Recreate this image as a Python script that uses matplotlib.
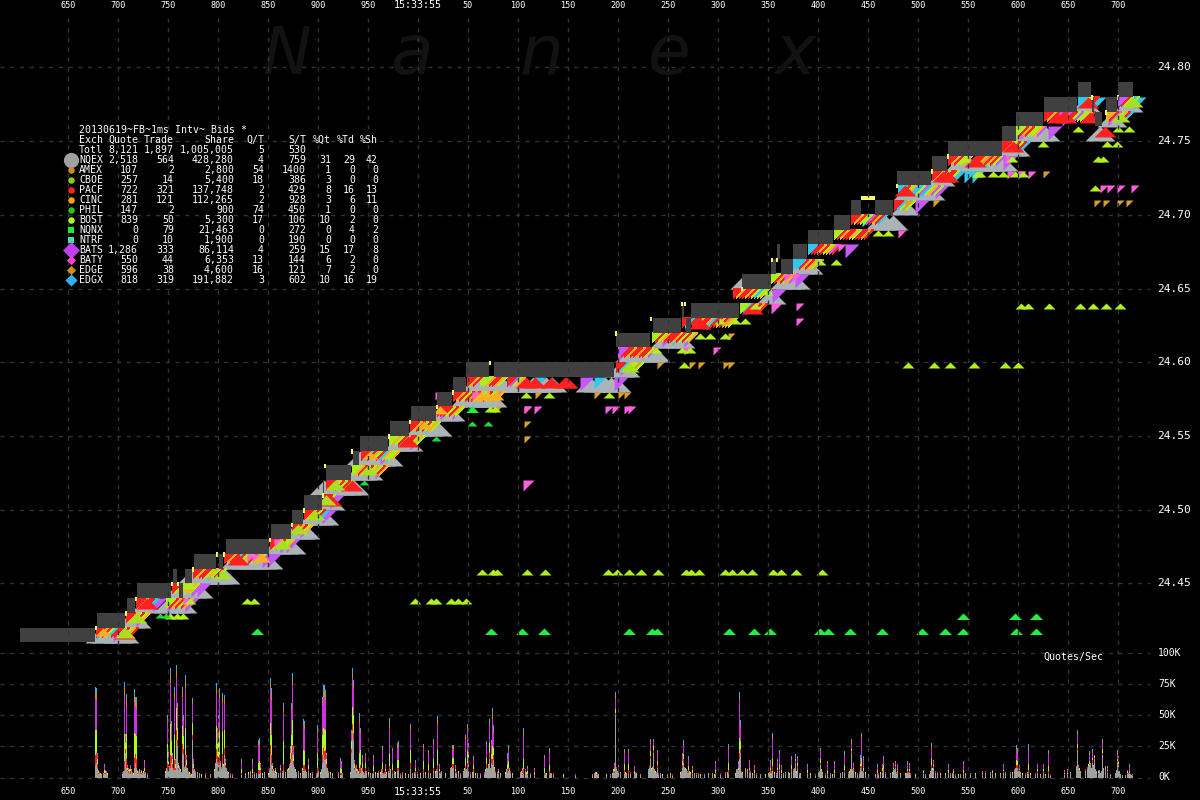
import matplotlib
matplotlib.use("Agg")
import matplotlib.pyplot as plt
import numpy as np

# time axis: t = ms counted from the left edge of the chart, 1 ms = 1 pixel
tick_t = [68, 118, 168, 218, 268, 318, 368, 418, 468, 518, 568, 618, 668, 718, 768, 818, 868, 918, 968, 1018, 1068, 1118]
tick_lab = ["650", "700", "750", "800", "850", "900", "950", "15:33:55", "50", "100", "150", "200", "250", "300",
            "350", "400", "450", "500", "550", "600", "650", "700"]
price_ticks = [24.80, 24.75, 24.70, 24.65, 24.60, 24.55, 24.50, 24.45]
vol_ticks = [100, 75, 50, 25, 0]

# best bid boxes: start, end, bid
nbb_start = [20, 97, 127, 137, 179, 173, 185, 194, 219, 226, 271, 292, 304, 323, 326, 353, 360, 390, 411, 437, 453, 466, 494,
             616, 653, 686, 682, 691, 742, 771, 781, 777, 793, 808, 834, 851, 875, 897, 932, 948, 1002, 1016, 1044, 1078,
             1092, 1095, 1106, 1118]
nbb_end = [95, 125, 135, 171, 183, 177, 192, 216, 223, 269, 291, 303, 322, 324, 351, 359, 388, 409, 436, 452, 466, 489, 614,
           650, 681, 691, 684, 739, 771, 776, 793, 780, 807, 833, 850, 861, 893, 931, 947, 1002, 1016, 1043, 1077, 1091,
           1094, 1102, 1117, 1133]
nbb_bid = [24.41, 24.42, 24.43, 24.44, 24.44, 24.45, 24.45, 24.46, 24.46, 24.47, 24.48, 24.49, 24.50, 24.51, 24.52, 24.53,
           24.54, 24.55, 24.56, 24.57, 24.58, 24.59, 24.59, 24.61, 24.62, 24.62, 24.63, 24.63, 24.65, 24.66, 24.66, 24.67,
           24.67, 24.68, 24.69, 24.70, 24.70, 24.72, 24.73, 24.74, 24.75, 24.76, 24.77, 24.78, 24.77, 24.76, 24.77, 24.78]

yellow_t = [95, 125, 135, 171, 177, 192, 216, 223, 269, 291, 303, 322, 324, 351, 388, 409, 436, 452, 489, 615, 650, 681, 684,
            741, 771, 776, 896, 931, 947, 1091, 1105, 1117]
yellow_bid = [24.42, 24.43, 24.44, 24.45, 24.45, 24.46, 24.47, 24.47, 24.48, 24.49, 24.50, 24.51, 24.53, 24.54, 24.55, 24.56,
              24.57, 24.58, 24.60, 24.62, 24.63, 24.64, 24.64, 24.65, 24.67, 24.67, 24.72, 24.73, 24.74, 24.78, 24.77, 24.78]
yellow_wide_t = [861]
yellow_wide_bid = [24.71]

# quotes per exchange, (bid, times)
nqex_rows = [(24.42, [100, 106, 118, 124]), (24.43, [130, 136]), (24.44, [145, 168, 175, 182]), (24.45, [178, 185, 192, 198]),
             (24.46, [192, 199, 205, 212, 218, 225]), (24.47, [235, 241, 247, 254, 262, 268]), (24.48, [276, 283, 291]),
             (24.49, [295, 300, 305]), (24.50, [312, 318, 324]), (24.51, [330]), (24.52, [324, 331, 340, 347, 354]),
             (24.53, [358, 362, 368]), (24.54, [360, 367, 375, 381, 388]), (24.55, [398, 404, 408]), (24.56, [420, 428, 437]),
             (24.57, [444, 450]), (24.58, [465, 472, 480, 486, 492]),
             (24.59, [475, 482, 489, 495, 502, 510, 518, 525, 533, 540, 546, 552, 590, 598, 605, 611, 616]),
             (24.60, [620, 625]), (24.61, [630, 643, 650, 655]), (24.62, [665, 672, 680]), (24.65, [771]),
             (24.66, [745, 785, 790, 795]), (24.67, [802, 808]), (24.70, [880, 885, 893]), (24.71, [905]),
             (24.72, [908, 915, 922, 930]), (24.73, [940]), (24.74, [960, 968, 975, 983, 990, 997, 1003]), (24.75, [1012, 1015]),
             (24.76, [1026, 1032, 1038, 1045, 1100]), (24.77, [1112]), (24.78, [1085, 1128])]
bats_rows = [(24.42, [113]), (24.43, [136]), (24.44, [153, 167, 185]), (24.45, [191, 197]), (24.47, [262, 267]),
             (24.48, [280, 286]), (24.49, [300]), (24.50, [322]), (24.51, [330]), (24.53, [375]), (24.54, [380]),
             (24.55, [410]), (24.57, [440, 452]), (24.59, [580, 614]), (24.60, [620]), (24.61, [618]), (24.62, [662, 684]),
             (24.65, [772]), (24.66, [795]), (24.71, [915]), (24.72, [935]), (24.74, [1003]), (24.76, [1020, 1048]),
             (24.68, [845]), (24.77, [1062, 1108])]
edgx_rows = [(24.42, [124, 96]), (24.43, [133]), (24.44, [148, 175]), (24.46, [207]), (24.48, [283]), (24.50, [318]),
             (24.54, [385]), (24.56, [425]), (24.59, [534, 594]), (24.62, [672]), (24.63, [685, 706]), (24.64, [745]),
             (24.70, [862]), (24.72, [905, 920]), (24.73, [953, 964, 972]), (24.74, [985]), (24.75, [1019]),
             (24.78, [1078, 1094, 1134])]
baty_rows = [(24.44, [183]), (24.47, [247, 252]), (24.48, [274]), (24.57, [524, 534, 605, 612, 624, 628]),
             (24.58, [435, 472]), (24.61, [713, 684]), (24.64, [796]), (24.63, [796]), (24.66, [784, 792]),
             (24.69, [898]), (24.73, [1007, 1018, 1028]), (24.72, [1100, 1107, 1117, 1131]), (24.68, [838]),
             (24.74, [1005])]
baty_big_rows = [(24.52, [523]), (24.64, [771])]
edge_rows = [(24.55, [524]), (24.56, [524]), (24.57, [524, 495]), (24.58, [535, 594, 618, 624]),
             (24.60, [657, 689, 698, 723, 728]), (24.62, [728]), (24.73, [1043, 1018]), (24.71, [1094, 1103, 1117, 1126, 933]),
             (24.71, [905])]
pacf_rows = [(24.42, [125]), (24.44, [147]), (24.47, [238]), (24.51, [331]), (24.52, [352]), (24.55, [408]),
             (24.59, [526, 535, 551, 567]), (24.59, [565]), (24.64, [752]), (24.63, [700]), (24.72, [905]),
             (24.73, [943, 948]), (24.74, [975]), (24.75, [1013]), (24.77, [1057, 1066, 1090]), (24.76, [1105]),
             (24.78, [1088])]
cinc_rows = [(24.42, [103, 125]), (24.45, [186]), (24.47, [262]), (24.54, [370]), (24.56, [424]), (24.57, [440]),
             (24.58, [480, 488, 496])]
bost_rows = [(24.46, [482, 493, 497, 527, 545, 608, 617, 629, 641, 658, 686, 691, 699, 725, 732, 742, 752, 773, 781, 796, 822]),
             (24.44, [415, 431, 436, 451, 458, 466, 254, 247]), (24.64, [1021, 1028, 1049, 1080, 1093, 1106, 1120]),
             (24.60, [908, 934, 950, 974, 1005, 1018, 684]), (24.75, [1043, 1107, 1117]), (24.74, [1098, 1103]),
             (24.76, [1078, 1118, 1129]), (24.73, [977, 980, 993, 1003, 1015, 1023]), (24.72, [1095]),
             (24.57, [490, 495]), (24.58, [526, 549, 609]), (24.61, [682, 690, 656]), (24.65, [767]),
             (24.67, [820, 836]), (24.69, [878, 888]), (24.64, [755]), (24.63, [720, 735, 745]), (24.62, [700, 710, 725]),
             (24.45, [186, 190]), (24.43, [170, 177, 183]), (24.44, [190]), (24.74, [965, 1012])]
bost_big_rows = [(24.42, [125]), (24.43, [137]), (24.46, [222]), (24.48, [282]), (24.49, [298]), (24.50, [315]),
                 (24.51, [326]), (24.52, [335]), (24.53, [368]), (24.60, [629]), (24.78, [1133]), (24.77, [1120])]
phil_rows = [(24.57, [472]), (24.56, [472, 488]), (24.52, [364]), (24.55, [436]), (24.43, [160, 166])]
nqnx_rows = [(24.42, [257, 491, 522, 544, 629, 652, 657, 729, 754, 770, 820, 828, 850, 882, 922, 945, 963, 1016, 1036]),
             (24.43, [963, 1015, 1036]), (24.57, [472])]

# diagonal streaks at the head of each bid level: bid, times, exchange letter per quote
hatch_rows = [
    (24.42, [96, 99, 102, 105, 108, 111, 114, 117, 120, 123, 126, 129], "RORLCRRLRLOR"),
    (24.43, [126, 129, 132, 135, 138, 141], "ROLRLO"),
    (24.44, [136, 139, 142, 145, 148, 166, 169, 172, 175, 178, 181, 184], "RORRCLRORLRO"),
    (24.45, [172, 175, 178, 181, 184, 187, 190], "RLOLLOL"),
    (24.46, [193, 196, 199, 202, 205, 208, 211, 214, 217], "RORRLOLRL"),
    (24.47, [224, 227, 230, 233, 236, 239, 242, 245, 248, 251, 254, 257], "RORCRLOLRLOL"),
    (24.48, [270, 273, 276, 279, 282, 285], "RORLLO"),
    (24.49, [292, 295, 298, 301, 304], "RORLO"),
    (24.50, [304, 307, 310, 313, 316], "RORLR"),
    (24.51, [323, 326], "RL"),
    (24.52, [326, 329, 332, 335, 338, 341, 344], "ROLRLRL"),
    (24.53, [352, 355, 358, 361, 364, 367, 370, 373, 376, 379], "LORLRLOLRO"),
    (24.54, [361, 364, 367, 370, 373, 376, 379, 382, 385, 388, 391], "RCROLRCOLLO"),
    (24.55, [389, 392, 395, 398, 401, 404, 407, 410, 413, 416], "LOLRORRLOL"),
    (24.56, [410, 413, 416, 419, 422, 425, 428, 431], "RORLRLOL"),
    (24.57, [437, 440, 443, 446, 449, 452, 455], "RRRLROL"),
    (24.58, [453, 456, 459, 462, 465, 468, 471, 474, 477, 480, 483, 486, 489, 492, 495], "RORLRGROLORLOGO"),
    (24.59, [467, 470, 473, 480, 483, 486, 489, 492, 495, 498, 507, 510, 513, 516], "RORLLORROLRPLO"),
    (24.60, [616, 619, 622, 625, 628, 631, 634], "RCOLLGL"),
    (24.61, [618, 621, 624, 627, 630, 633, 636, 639, 642, 645, 648], "PRRORRORRLP"),
    (24.62, [652, 655, 658, 661, 664, 667, 670, 673, 676, 679, 682, 685, 688], "LRLORRRORLRLO"),
    (24.63, [682, 685, 688, 692, 695, 698, 701, 704, 707, 710, 713, 716, 719, 722, 725, 728], "RCRRORROCRRORGOL"),
    (24.64, [740, 743, 746, 749, 752, 755, 758], "LCROROR"),
    (24.65, [733, 736, 739, 742, 745, 748, 751, 754, 757, 760], "RORRORLCLO"),
    (24.66, [771, 774, 777, 780, 783, 786, 789], "LRORLOP"),
    (24.67, [793, 796, 799, 802, 805, 808, 811, 814], "CCROROLG"),
    (24.68, [808, 811, 814, 817, 820, 823, 826, 829, 832], "CRRORLOPR"),
    (24.69, [834, 837, 840, 843, 846, 849, 852, 855, 858, 861, 864], "LRORROLRRGR"),
    (24.70, [851, 854, 857, 860, 863, 866, 869, 872, 875, 878], "RORLLPRORC"),
    (24.71, [894, 897, 900, 903, 906], "RCLGL"),
    (24.72, [898, 901, 904, 907, 910, 913, 916, 919, 922, 925, 928, 931, 934], "CRLOCCLPCLOPL"),
    (24.73, [932, 935, 938, 941, 944, 947, 950], "RORLRRL"),
    (24.74, [948, 951, 954, 957, 960, 963, 975, 978, 981, 984, 987, 990, 993, 996], "RORLLOROGRORLP"),
    (24.75, [1002, 1005, 1008, 1011, 1014, 1017, 1020], "ROLRLRC"),
    (24.76, [1016, 1019, 1022, 1025, 1028, 1031, 1034, 1037], "LRORLLOP"),
    (24.77, [1044, 1047, 1050, 1053, 1056, 1059, 1062, 1065, 1068, 1071, 1074, 1077, 1080, 1083, 1086, 1106, 1109, 1112, 1115,
             1118, 1121, 1124], "RORPRRPRRLPLLORORPLORC"),
    (24.78, [1078, 1081, 1084, 1087, 1090, 1118, 1121, 1124, 1127, 1130], "CLORRPRLCL"),
]

# quotes per 1 ms slot, stacked, in thousands per second
vol_t = [95, 96, 97, 98, 104, 105, 124, 125, 126, 127, 128, 130, 134, 135, 136, 137, 141, 144, 167, 168,
         170, 171, 172, 174, 175, 176, 177, 178, 182, 183, 185, 186, 192, 193, 216, 217, 218, 219, 222, 224,
         225, 241, 252, 258, 259, 260, 270, 271, 272, 275, 280, 283, 290, 291, 292, 293, 303, 304, 308, 317,
         322, 323, 324, 325, 326, 340, 341, 351, 352, 353, 354, 356, 359, 360, 362, 365, 373, 382, 385, 389,
         392, 397, 398, 410, 415, 423, 428, 433, 437, 439, 452, 453, 455, 465, 467, 468, 473, 486, 489, 491,
         492, 493, 498, 507, 508, 522, 523, 527, 534, 544, 549, 614, 615, 618, 624, 628, 634, 650, 653, 657,
         682, 683, 688, 692, 715, 728, 738, 739, 740, 749, 754, 770, 772, 777, 779, 781, 791, 795, 797, 807,
         820, 827, 834, 844, 851, 853, 860, 861, 863, 877, 882, 883, 893, 895, 897, 907, 909, 923, 931, 933,
         948, 953, 963, 982, 992, 1003, 1016, 1017, 1019, 1028, 1037, 1043, 1048, 1064, 1067, 1077, 1078, 1089, 1092, 1094,
         1098, 1102, 1107, 1117, 1118, 1127, 1129, 1132]
vol_nqex = [10, 12, 8, 3, 3, 3, 5, 20, 8, 5, 4, 3, 8, 12, 8, 3, 3, 3, 6, 8,
            8, 12, 8, 6, 6, 30, 25, 6, 20, 18, 10, 8, 30, 6, 15, 12, 10, 10, 12, 18,
            8, 2, 2, 3, 3, 4, 18, 10, 5, 3, 4, 5, 12, 15, 20, 10, 5, 5, 5, 4,
            12, 18, 14, 15, 8, 2, 2, 20, 37, 30, 6, 4, 3, 4, 5, 5, 3, 4, 3, 4,
            3, 5, 5, 7, 3, 4, 4, 5, 5, 4, 8, 8, 4, 6, 8, 10, 5, 8, 15, 12,
            10, 14, 3, 4, 5, 2, 3, 2, 1, 2, 2, 4, 50, 4, 3, 3, 2, 15, 20, 8,
            8, 12, 4, 3, 2, 3, 5, 15, 20, 4, 3, 4, 5, 5, 5, 3, 6, 12, 8, 3,
            10, 2, 3, 4, 20, 6, 8, 5, 4, 3, 4, 6, 6, 8, 5, 4, 4, 3, 8, 8,
            3, 3, 3, 2, 3, 4, 8, 8, 5, 3, 4, 4, 3, 2, 2, 22, 5, 10, 12, 15,
            3, 18, 4, 12, 10, 3, 3, 1]
vol_pacf = [8, 8, 3, 1, 1, 1, 8, 3, 7, 1, 1, 2, 8, 7, 7, 1, 1, 2, 6, 3,
            10, 5, 3, 8, 2, 8, 5, 2, 7, 5, 8, 2, 4, 2, 8, 5, 6, 8, 7, 6,
            2, 2, 2, 3, 3, 2, 8, 8, 2, 1, 2, 6, 3, 5, 6, 3, 5, 5, 2, 4,
            6, 6, 7, 7, 3, 2, 2, 3, 6, 6, 2, 1, 5, 6, 3, 3, 2, 3, 2, 5,
            3, 3, 3, 5, 2, 3, 2, 3, 5, 1, 3, 3, 1, 3, 4, 3, 2, 3, 5, 3,
            5, 4, 1, 3, 3, 1, 4, 1, 1, 2, 3, 1, 2, 1, 3, 3, 1, 2, 2, 2,
            2, 3, 2, 1, 2, 3, 1, 5, 3, 2, 1, 2, 4, 1, 2, 1, 1, 1, 1, 1,
            2, 1, 1, 2, 1, 1, 1, 4, 1, 1, 1, 1, 1, 1, 1, 1, 1, 1, 2, 1,
            1, 1, 1, 1, 1, 1, 2, 2, 1, 3, 1, 1, 2, 1, 1, 2, 1, 1, 2, 1,
            1, 2, 1, 1, 1, 1, 1, 1]
vol_bost = [20, 18, 4, 1, 2, 1, 22, 5, 20, 2, 1, 2, 20, 16, 18, 1, 1, 3, 15, 5,
            25, 12, 4, 20, 3, 18, 10, 2, 14, 10, 22, 4, 10, 3, 18, 10, 12, 20, 18, 14,
            2, 3, 3, 6, 7, 2, 18, 16, 2, 2, 2, 18, 5, 14, 20, 5, 12, 11, 3, 12,
            16, 16, 18, 16, 4, 4, 3, 6, 14, 14, 3, 2, 12, 12, 4, 4, 4, 5, 2, 11,
            5, 6, 6, 10, 3, 6, 5, 7, 12, 2, 5, 5, 2, 7, 10, 5, 3, 5, 8, 4,
            10, 6, 1, 4, 5, 1, 8, 2, 2, 4, 5, 2, 3, 2, 5, 5, 2, 4, 3, 3,
            3, 4, 3, 2, 2, 6, 2, 12, 6, 2, 2, 2, 6, 2, 4, 2, 3, 2, 3, 2,
            3, 2, 2, 4, 2, 1, 2, 7, 3, 2, 3, 3, 1, 1, 1, 2, 2, 1, 5, 1,
            2, 1, 2, 1, 1, 1, 4, 3, 1, 5, 2, 2, 4, 1, 1, 3, 1, 2, 2, 1,
            1, 3, 1, 2, 2, 1, 1, 0]
vol_baty = [25, 24, 3, 1, 3, 1, 30, 5, 22, 1, 1, 2, 25, 22, 22, 1, 1, 4, 17, 4,
            33, 12, 3, 29, 3, 25, 15, 1, 24, 12, 32, 3, 15, 3, 26, 10, 16, 26, 23, 21,
            2, 5, 5, 13, 14, 3, 27, 28, 2, 1, 1, 24, 4, 20, 28, 5, 19, 18, 3, 16,
            24, 25, 26, 24, 3, 6, 4, 7, 23, 21, 2, 2, 24, 14, 4, 6, 7, 10, 3, 20,
            10, 10, 11, 16, 4, 11, 8, 12, 20, 3, 7, 7, 2, 15, 16, 8, 5, 9, 13, 8,
            22, 12, 2, 5, 9, 2, 18, 3, 3, 8, 10, 3, 8, 2, 9, 9, 4, 6, 4, 7,
            4, 7, 6, 2, 6, 11, 3, 30, 12, 5, 3, 4, 16, 5, 8, 3, 5, 2, 3, 3,
            6, 7, 5, 8, 4, 3, 4, 16, 6, 3, 2, 5, 2, 2, 3, 4, 3, 1, 9, 3,
            3, 2, 5, 1, 1, 3, 8, 7, 2, 11, 3, 3, 10, 1, 2, 7, 2, 5, 4, 1,
            1, 5, 2, 4, 3, 1, 4, 1]
vol_edge = [6, 6, 1, 0, 1, 0, 7, 1, 6, 1, 1, 1, 6, 5, 6, 0, 0, 1, 3, 1,
            7, 2, 1, 6, 1, 5, 3, 1, 5, 3, 6, 1, 3, 1, 5, 2, 3, 4, 5, 4,
            1, 1, 1, 3, 3, 1, 5, 6, 1, 1, 1, 4, 1, 3, 5, 1, 3, 3, 1, 3,
            4, 5, 5, 4, 1, 1, 1, 1, 4, 4, 1, 1, 4, 2, 1, 1, 1, 2, 1, 4,
            2, 2, 2, 3, 1, 2, 2, 2, 4, 1, 2, 2, 1, 2, 3, 1, 1, 1, 3, 2,
            5, 3, 0, 1, 2, 1, 4, 1, 1, 1, 2, 1, 3, 1, 2, 2, 0, 2, 1, 1,
            1, 2, 1, 1, 1, 2, 1, 3, 2, 1, 1, 1, 2, 1, 1, 1, 1, 1, 1, 1,
            1, 1, 1, 1, 2, 1, 1, 2, 1, 1, 1, 1, 1, 1, 1, 1, 1, 0, 2, 1,
            1, 0, 1, 0, 0, 1, 2, 2, 1, 2, 1, 1, 1, 1, 1, 2, 1, 2, 2, 0,
            0, 1, 1, 2, 1, 0, 1, 0]
vol_edgx = [4, 4, 1, 0, 1, 0, 5, 1, 4, 0, 0, 0, 4, 3, 4, 0, 0, 1, 3, 1,
            5, 2, 1, 4, 0, 4, 2, 0, 3, 2, 4, 0, 2, 0, 4, 1, 3, 4, 3, 3,
            0, 2, 2, 2, 2, 0, 4, 4, 0, 0, 0, 3, 0, 3, 5, 1, 3, 3, 1, 3,
            3, 4, 4, 4, 1, 1, 1, 1, 4, 3, 0, 0, 4, 2, 1, 1, 1, 1, 0, 4,
            1, 2, 2, 2, 1, 1, 1, 2, 3, 0, 1, 1, 0, 1, 2, 1, 1, 3, 3, 1,
            4, 3, 0, 3, 2, 1, 3, 0, 0, 1, 2, 1, 3, 0, 1, 1, 0, 2, 1, 1,
            2, 2, 1, 0, 0, 2, 1, 4, 3, 0, 0, 1, 3, 1, 2, 0, 1, 1, 1, 1,
            2, 0, 1, 2, 2, 0, 2, 2, 2, 1, 0, 1, 1, 0, 0, 1, 1, 0, 2, 0,
            1, 0, 1, 0, 0, 1, 2, 2, 0, 3, 0, 0, 2, 0, 0, 2, 0, 1, 1, 0,
            0, 2, 0, 1, 0, 0, 1, 0]

# small quote counts under the spikes, with the colour of the quote on top of each
low_t = [99, 100, 101, 103, 106, 107, 122, 123, 129, 131, 132, 133, 138, 139, 140, 142, 143, 145, 147, 165,
         166, 169, 173, 179, 180, 181, 184, 187, 188, 189, 190, 191, 194, 195, 197, 199, 201, 205, 210, 214,
         215, 220, 221, 223, 226, 227, 228, 230, 232, 245, 248, 250, 254, 256, 262, 264, 268, 269, 273, 274,
         276, 278, 282, 285, 287, 288, 289, 294, 295, 296, 298, 300, 302, 305, 306, 310, 312, 316, 318, 320,
         321, 327, 328, 330, 332, 338, 342, 350, 355, 357, 358, 361, 363, 364, 366, 368, 370, 372, 375, 377,
         378, 380, 381, 383, 384, 386, 388, 390, 394, 395, 400, 402, 405, 408, 412, 414, 417, 420, 425, 430,
         435, 436, 440, 441, 445, 450, 451, 456, 458, 460, 463, 464, 466, 470, 472, 475, 477, 480, 484, 485,
         487, 488, 490, 494, 495, 497, 500, 505, 506, 509, 510, 512, 520, 521, 525, 526, 530, 545, 546, 550,
         551, 553, 563, 575, 592, 594, 595, 596, 597, 598, 606, 610, 612, 613, 616, 617, 620, 625, 626, 630,
         635, 636, 640, 648, 649, 651, 652, 654, 655, 656, 658, 660, 662, 667, 670, 672, 680, 681, 684, 685,
         686, 687, 689, 690, 694, 696, 698, 700, 704, 708, 712, 714, 720, 725, 727, 735, 736, 737, 741, 742,
         745, 747, 750, 752, 756, 760, 765, 768, 769, 771, 774, 776, 783, 785, 788, 789, 793, 794, 796, 799,
         800, 810, 815, 818, 819, 821, 822, 825, 830, 832, 840, 842, 848, 849, 850, 852, 855, 857, 859, 862,
         865, 868, 875, 878, 880, 885, 890, 892, 894, 896, 900, 905, 906, 908, 910, 915, 925, 929, 930, 932,
         935, 937, 940, 945, 950, 952, 955, 958, 960, 965, 970, 975, 985, 990, 995, 1000, 1005, 1010, 1012, 1014,
         1015, 1018, 1020, 1022, 1025, 1027, 1030, 1035, 1040, 1045, 1050, 1070, 1076, 1079, 1080, 1085, 1087, 1088, 1090, 1091,
         1093, 1095, 1096, 1099, 1100, 1101, 1103, 1105, 1110, 1115, 1116, 1119, 1120, 1122, 1125, 1128, 1130, 1131]
low_k = [3, 2, 1, 2, 4, 2, 3, 4, 5, 5, 3, 2, 4, 5, 3, 2, 4, 3, 2, 4,
         6, 8, 6, 8, 5, 3, 7, 6, 4, 3, 2, 1, 5, 4, 3, 2, 1, 2, 1, 5,
         10, 12, 7, 9, 6, 4, 3, 2, 1, 2, 3, 4, 3, 2, 2, 3, 2, 6, 5, 4,
         3, 2, 4, 3, 5, 6, 9, 7, 5, 3, 4, 2, 6, 5, 3, 2, 3, 2, 4, 3,
         5, 6, 4, 3, 2, 3, 2, 3, 8, 5, 4, 6, 3, 2, 4, 3, 2, 2, 3, 2,
         4, 3, 5, 2, 3, 3, 4, 5, 4, 3, 2, 3, 2, 1, 2, 3, 3, 2, 3, 2,
         4, 5, 3, 4, 2, 6, 7, 3, 4, 2, 4, 6, 5, 3, 3, 2, 2, 2, 3, 5,
         6, 9, 6, 7, 4, 3, 2, 3, 5, 6, 4, 2, 3, 4, 5, 3, 2, 2, 2, 2,
         2, 2, 1, 1, 1, 2, 3, 3, 2, 1, 1, 1, 2, 5, 7, 4, 3, 3, 2, 3,
         3, 2, 1, 5, 8, 6, 7, 5, 4, 3, 2, 2, 1, 1, 2, 1, 3, 4, 7, 6,
         5, 4, 4, 3, 2, 2, 2, 1, 1, 2, 2, 1, 2, 3, 3, 2, 5, 5, 4, 3,
         6, 5, 4, 2, 2, 1, 1, 2, 3, 4, 3, 2, 2, 3, 3, 2, 5, 6, 4, 2,
         2, 2, 1, 3, 4, 5, 3, 2, 2, 1, 2, 3, 3, 4, 5, 5, 3, 2, 3, 4,
         3, 1, 1, 2, 3, 3, 2, 3, 5, 3, 2, 2, 2, 3, 2, 1, 1, 1, 4, 6,
         4, 3, 2, 2, 2, 2, 1, 1, 1, 2, 2, 2, 4, 3, 2, 2, 3, 3, 3, 5,
         6, 5, 3, 2, 2, 3, 2, 2, 1, 1, 1, 3, 8, 6, 4, 5, 7, 9, 12, 8,
         10, 7, 5, 6, 4, 5, 8, 9, 3, 4, 6, 5, 3, 2, 2, 4, 3, 2]
low_top = ("RLOGPLRCLGRLPORGLCRLOGRPLCGORLRLGPOCLRGLOPRLCGLRPOLGRCLOLRGPLCRGOLRPLGCOLRGLPROLCGRLOPGLRCLOGRPL"
           "GCLORLGPRLCOGLRPLOGCRLOGLPRCLGORLPGLCROLGPRLCOGLRPOLGCRLGOPLRCLOGRLPGCOLRGLPOLRCGLORPLGCRLOGLPRC"
           "LGORLPGLCROLGPRLCOGLRPOLGCRLGOPLRCLOGRLPGCOLRGLPOLRCGLORPLGCRLOGLPRCLGORLPGLCROLGPRLCOGLRPOLGCRL"
           "GOPLRCLOGRLPGCOLRGLPOLRCGLORPL")

exch_names = ["NQEX", "AMEX", "CBOE", "PACF", "CINC", "PHIL", "BOST", "NQNX", "NTRF", "BATS", "BATY", "EDGE", "EDGX"]
exch_quote = ["2,518", "107", "257", "722", "281", "147", "839", "0", "0", "1,286", "550", "596", "818"]
exch_trade = ["564", "2", "14", "321", "121", "2", "50", "79", "10", "333", "44", "38", "319"]
exch_share = ["428,280", "2,800", "5,400", "137,748", "112,265", "900", "5,300", "21,463", "1,900", "86,114", "6,353", "4,600", "191,882"]
exch_qt = ["4", "54", "18", "2", "2", "74", "17", "0", "0", "4", "13", "16", "3"]
exch_st = ["759", "1400", "386", "429", "928", "450", "106", "272", "190", "259", "144", "121", "602"]
exch_pq = ["31", "1", "3", "8", "3", "1", "10", "0", "0", "15", "6", "7", "10"]
exch_pt = ["29", "0", "0", "16", "6", "0", "2", "4", "0", "17", "2", "2", "16"]
exch_ps = ["42", "0", "0", "13", "11", "0", "0", "2", "0", "8", "0", "0", "19"]
exch_color = ["#a0a0a0", "#d08c20", "#90c820", "#ff2020", "#ffa510", "#20c820", "#aaff20", "#20f020", "#40e0b0",
              "#c040f0", "#ff40d0", "#d09020", "#30b0f0"]
exch_marker = ["o", "o", "o", "o", "o", "o", "o", "s", "s", "D", "D", "D", "D"]
exch_size = [120, 22, 22, 22, 22, 22, 22, 20, 20, 75, 22, 22, 38]

hatch_color = {"R": "#ff2020", "O": "#ffb020", "L": "#aaee20", "C": "#30c8f0", "P": "#c858f8", "G": "#d8a030"}
low_color = {"R": "#ff2020", "O": "#ffa510", "L": "#aaff20", "C": "#30b0f0", "P": "#d030e0", "G": "#d08c20"}

BG = "#000000"
GRID = "#333333"
MONO = "DejaVu Sans Mono"
UP = [(-1, -1), (1, -1), (0, 0), (-1, -1)]
DOWN = [(0, 0), (1, 0), (0, -1), (0, 0)]


def flat(rows):
    xs, ys = [], []
    for bid, times in rows:
        xs += times
        ys += [bid] * len(times)
    return xs, ys


def marks(ax, rows, marker, width, color, z):
    xs, ys = flat(rows)
    ax.scatter(xs, ys, s=(1.44 * width) ** 2, marker=marker, c=color, linewidths=0, antialiased=False, zorder=z)


fig = plt.figure(figsize=(12, 8), dpi=100, facecolor=BG)

ax = fig.add_axes([0, 0, 1, 1], facecolor=BG)
ax.set_xlim(0, 1200)
ax.set_ylim(24.45 - 216.7 / 1474, 24.45 + 583.3 / 1474)
ax.axis("off")

ax_v = fig.add_axes([0, 0, 1, 1], facecolor="none")
ax_v.set_xlim(0, 1200)
ax_v.set_ylim(-22.5 / 1.245, 777.5 / 1.245)
ax_v.axis("off")

ax_t = fig.add_axes([0, 0, 1, 1], facecolor="none")
ax_t.set_xlim(0, 1200)
ax_t.set_ylim(800, 0)
ax_t.axis("off")

# watermark
for x, ch, size in zip([262, 390, 520, 648, 775], "Nanex", [47, 50, 50, 50, 50]):
    ax_t.text(x, 74, ch, color="#121212", fontsize=size, style="italic", family="DejaVu Sans", ha="left", va="baseline", zorder=0)

# grid
ax_t.vlines(tick_t, 18, 778, color=GRID, lw=1, linestyles=(0, (3, 4)), zorder=1)
ax.hlines(price_ticks, 0, 1150, color=GRID, lw=1, linestyles=(0, (3, 4)), zorder=1)
ax_v.hlines(vol_ticks, 0, 1150, color=GRID, lw=1, linestyles=(0, (3, 4)), zorder=1)

# quotes
marks(ax, nqex_rows, UP, 15, "#aab4b8", 3)
marks(ax, bats_rows, DOWN, 14, "#c858f8", 4)
marks(ax, edgx_rows, DOWN, 12, "#30c8f0", 5)

hx, hy, hc = [], [], []
for bid, times, codes in hatch_rows:
    for t, code in sorted(zip(times, codes), reverse=True):
        hx.append(t)
        hy.append(bid)
        hc.append(hatch_color[code])
ax.scatter(hx, hy, s=(1.44 * 10) ** 2, marker=DOWN, c=hc, linewidths=0, antialiased=False, zorder=6)

marks(ax, edge_rows, DOWN, 7, "#d8a030", 6.5)
marks(ax, baty_rows, DOWN, 8, "#ff60e0", 6.6)
marks(ax, baty_big_rows, DOWN, 11, "#ff60e0", 6.6)
marks(ax, pacf_rows, UP, 11, "#ff2020", 7)
marks(ax, cinc_rows, UP, 8, "#ffb020", 7.1)
marks(ax, bost_big_rows, UP, 10, "#a8e020", 7.2)
marks(ax, bost_rows, UP, 6, "#b0f020", 7.3)
marks(ax, phil_rows, UP, 5, "#20d840", 7.4)
marks(ax, nqnx_rows, UP, 6.5, "#20f040", 7.5)

# best bid
ax.bar(nbb_start, 0.01, width=np.array(nbb_end) - np.array(nbb_start), bottom=nbb_bid, align="edge",
       color="#404040", linewidth=0, antialiased=False, zorder=8)
ax.bar(yellow_t, 0.003, width=2, bottom=np.array(yellow_bid) - 0.002, align="edge",
       color="#ffff60", linewidth=0, antialiased=False, zorder=9)
ax.bar(yellow_wide_t, 0.003, width=14, bottom=yellow_wide_bid, align="edge", color="#ffff60", linewidth=0,
       antialiased=False, zorder=9)

# quotes/sec
ax_v.bar(low_t, low_k, width=1, align="edge", color="#a0a0a0", linewidth=0, antialiased=False, zorder=3)
ax_v.bar(low_t[:len(low_top)], 1.6, width=1, bottom=low_k[:len(low_top)], align="edge",
         color=[low_color[c] for c in low_top[:len(low_t)]], linewidth=0, antialiased=False, zorder=3)
bottom = np.zeros(len(vol_t))
for vals, col in zip([vol_nqex, vol_pacf, vol_bost, vol_baty, vol_edge, vol_edgx],
                     ["#a0a0a0", "#ff2020", "#aaff20", "#d030e0", "#d08c20", "#30b0f0"]):
    ax_v.bar(vol_t, vals, width=1, bottom=bottom, align="edge", color=col, linewidth=0, antialiased=False, zorder=4)
    bottom = bottom + np.array(vals)

# axis labels
for t, lab in zip(tick_t, tick_lab):
    size = 7.2 if ":" in lab else 6.1
    ax_t.text(t, 5, lab, color="white", fontsize=size, family=MONO, ha="center", va="center", zorder=10)
    ax_t.text(t, 792, lab, color="white", fontsize=size, family=MONO, ha="center", va="center", zorder=10)
for p in price_ticks:
    ax.text(1157, p, "%.2f" % p, color="white", fontsize=8, family=MONO, ha="left", va="center", zorder=10)
for k in vol_ticks:
    ax_v.text(1158, k, "%dK" % k, color="white", fontsize=7, family=MONO, ha="left", va="center", zorder=10)
ax_t.text(1043, 657, "Quotes/Sec", color="white", fontsize=7.2, family=MONO, ha="left", va="center", zorder=10)


# table
def cell(x, y, s, ha="right"):
    ax_t.text(x, y, s, color="white", fontsize=7.1, family=MONO, ha=ha, va="center", zorder=11)


col_x = [138, 174, 234, 264, 306, 331, 355, 378]
cell(79, 130, "20130619~FB~1ms Intv~ Bids *", "left")
cell(79, 140, "Exch", "left")
for x, s in zip(col_x, ["Quote", "Trade", "Share", "Q/T", "S/T", "%Qt", "%Td", "%Sh"]):
    cell(x, 140, s)
cell(79, 150, "Totl", "left")
for x, s in zip(col_x, ["8,121", "1,897", "1,005,005", "5", "530"]):
    cell(x, 150, s)
for i, name in enumerate(exch_names):
    y = 160 + 10 * i
    cell(79, y, name, "left")
    row = [exch_quote[i], exch_trade[i], exch_share[i], exch_qt[i], exch_st[i], exch_pq[i], exch_pt[i], exch_ps[i]]
    for x, s in zip(col_x, row):
        cell(x, y, s)
    ax_t.scatter([71], [y], s=exch_size[i], marker=exch_marker[i], c=exch_color[i], linewidths=0, antialiased=False, zorder=11)

fig.savefig("out.png", dpi=100, facecolor=BG)
